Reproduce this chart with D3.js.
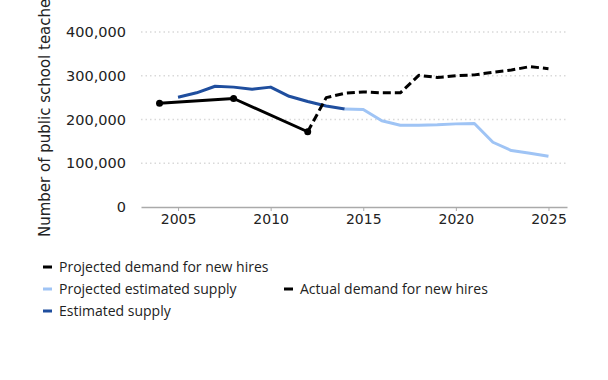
<!DOCTYPE html>
<html>
<head>
<meta charset="utf-8">
<script src="https://cdn.jsdelivr.net/npm/d3@7"></script>
<style>
  body { margin: 0; background: #fff; }
  text { font-family: "Open Sans", sans-serif; fill: #222; }
</style>
</head>
<body>
<div id="chart"></div>
<script>
// data
var actualYears = [2004, 2008, 2012];
var actualDemand = [237000, 248000, 172000];

var projDemandYears = [2012, 2013, 2014, 2015, 2016, 2017, 2018, 2019, 2020, 2021, 2022, 2023, 2024, 2025];
var projDemand = [172000, 250000, 260000, 263000, 261000, 261000, 301000, 296000, 300000, 302000, 308000, 313000, 321000, 316000];

var supplyYears = [2005, 2006, 2007, 2008, 2009, 2010, 2011, 2012, 2013, 2014];
var supply = [251000, 261000, 276000, 274000, 269000, 274000, 253000, 241000, 231000, 224000];

var projSupplyYears = [2014, 2015, 2016, 2017, 2018, 2019, 2020, 2021, 2022, 2023, 2024, 2025];
var projSupply = [224000, 223000, 197000, 187000, 187000, 188000, 190000, 191000, 148000, 129000, 123000, 116000];

var yTicks = [0, 100000, 200000, 300000, 400000];
var xTicks = [2005, 2010, 2015, 2020, 2025];

var width = 608, height = 380,
    margin = {top: 32, right: 41, bottom: 173, left: 141};

var svg = d3.select("#chart").append("svg")
  .attr("width", width)
  .attr("height", height);

var x = d3.scaleLinear().domain([2003, 2026]).range([margin.left, width - margin.right]);
var y = d3.scaleLinear().domain([0, 400000]).range([height - margin.bottom, margin.top]);

// grid
svg.append("g")
  .selectAll("line")
  .data(yTicks.filter(d => d > 0))
  .enter().append("line")
  .attr("x1", x.range()[0]).attr("x2", x.range()[1])
  .attr("y1", d => y(d)).attr("y2", d => y(d))
  .attr("stroke", "#d9d9d9")
  .attr("stroke-width", 1.5)
  .attr("stroke-dasharray", "1.5,3");

// y axis labels
var yAxis = d3.axisLeft(y).tickValues(yTicks).tickFormat(d3.format(",")).tickSize(0).tickPadding(15);
svg.append("g")
  .attr("transform", `translate(${margin.left},0)`)
  .call(yAxis)
  .call(g => g.select(".domain").remove())
  .call(g => g.selectAll("text").style("font-family", "'DejaVu Sans', sans-serif").style("font-size", "14.5px").attr("fill", "#222"));

// x axis
var xAxis = d3.axisBottom(x).tickValues(xTicks).tickFormat(d3.format("d")).tickSize(4).tickPadding(3).tickSizeOuter(0);
svg.append("g")
  .attr("transform", `translate(0,${y(0)})`)
  .call(xAxis)
  .call(g => g.select(".domain").attr("stroke", "#aaa").attr("stroke-width", 1.5))
  .call(g => g.selectAll(".tick line").attr("stroke", "#aaa"))
  .call(g => g.selectAll("text").style("font-family", "'DejaVu Sans', sans-serif").style("font-size", "14px").attr("fill", "#222"));

// y title (runs off the top, as in the original)
svg.append("text")
  .attr("transform", "translate(50,237) rotate(-90)")
  .style("font-family", "'DejaVu Sans', sans-serif")
  .style("font-size", "15px")
  .text("Number of public school teachers");

var line = d3.line().x(d => x(d[0])).y(d => y(d[1]));

function drawLine(years, vals, color, dash) {
  svg.append("path")
    .datum(d3.zip(years, vals))
    .attr("d", line)
    .attr("fill", "none")
    .attr("stroke", color)
    .attr("stroke-width", 3)
    .attr("stroke-linejoin", "round")
    .attr("stroke-dasharray", dash || null);
}

drawLine(supplyYears, supply, "#1f4e9e");
drawLine(projSupplyYears, projSupply, "#9fc4f5");
drawLine(projDemandYears, projDemand, "#000", "8,4");
drawLine(actualYears, actualDemand, "#000");

svg.append("g")
  .selectAll("circle")
  .data(d3.zip(actualYears, actualDemand))
  .enter().append("circle")
  .attr("cx", d => x(d[0]))
  .attr("cy", d => y(d[1]))
  .attr("r", 3.5)
  .attr("fill", "#000");

// legend
var legend = [
  {label: "Projected demand for new hires", color: "#000", lx: 43, ly: 267},
  {label: "Projected estimated supply", color: "#9fc4f5", lx: 43, ly: 289},
  {label: "Actual demand for new hires", color: "#000", lx: 284, ly: 289},
  {label: "Estimated supply", color: "#1f4e9e", lx: 43, ly: 311}
];
var lg = svg.append("g").selectAll("g")
  .data(legend)
  .enter().append("g")
  .attr("transform", d => `translate(${d.lx},${d.ly})`);
lg.append("rect")
  .attr("x", 0).attr("y", -1.5)
  .attr("width", 9).attr("height", 3)
  .attr("fill", d => d.color);
lg.append("text")
  .attr("x", 16).attr("y", 0)
  .attr("dy", "0.35em")
  .style("font-size", "14px")
  .text(d => d.label);
</script>
</body>
</html>
